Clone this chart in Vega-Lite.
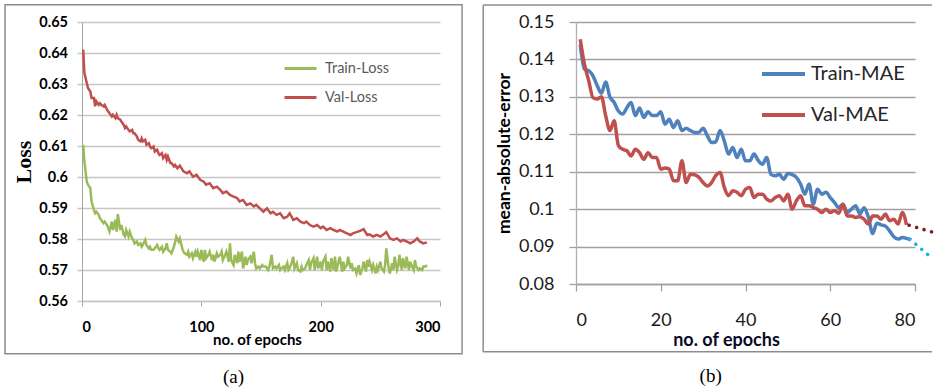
{
  "$schema": "https://vega.github.io/schema/vega-lite/v6.json",
  "background": "white",
  "padding": {"left": 4, "top": 3, "right": 0, "bottom": 0},
  "bounds": "flush",
  "spacing": 136,
  "config": {"view": {"stroke": null}},
  "resolve": {"scale": {"color": "independent"}, "legend": {"color": "independent"}},
  "datasets": {
    "loss": [
      {"epoch":1,"series":"Train-Loss","loss":0.6104},{"epoch":2,"series":"Train-Loss","loss":0.605},{"epoch":4,"series":"Train-Loss","loss":0.5985},{"epoch":5,"series":"Train-Loss","loss":0.5975},{"epoch":7,"series":"Train-Loss","loss":0.5964},{"epoch":8,"series":"Train-Loss","loss":0.5921},{"epoch":10,"series":"Train-Loss","loss":0.5894},{"epoch":11,"series":"Train-Loss","loss":0.5883},{"epoch":12,"series":"Train-Loss","loss":0.5888},{"epoch":14,"series":"Train-Loss","loss":0.5878},{"epoch":15,"series":"Train-Loss","loss":0.5867},{"epoch":16,"series":"Train-Loss","loss":0.5862},{"epoch":18,"series":"Train-Loss","loss":0.5851},{"epoch":19,"series":"Train-Loss","loss":0.5856},{"epoch":21,"series":"Train-Loss","loss":0.5845},{"epoch":22,"series":"Train-Loss","loss":0.5835},{"epoch":23,"series":"Train-Loss","loss":0.5824},{"epoch":25,"series":"Train-Loss","loss":0.5856},{"epoch":26,"series":"Train-Loss","loss":0.5829},{"epoch":28,"series":"Train-Loss","loss":0.5862},{"epoch":29,"series":"Train-Loss","loss":0.5824},{"epoch":30,"series":"Train-Loss","loss":0.588},{"epoch":32,"series":"Train-Loss","loss":0.5829},{"epoch":33,"series":"Train-Loss","loss":0.5845},{"epoch":35,"series":"Train-Loss","loss":0.5813},{"epoch":36,"series":"Train-Loss","loss":0.5808},{"epoch":37,"series":"Train-Loss","loss":0.5829},{"epoch":39,"series":"Train-Loss","loss":0.5808},{"epoch":40,"series":"Train-Loss","loss":0.5824},{"epoch":42,"series":"Train-Loss","loss":0.5802},{"epoch":43,"series":"Train-Loss","loss":0.5797},{"epoch":44,"series":"Train-Loss","loss":0.5786},{"epoch":46,"series":"Train-Loss","loss":0.5792},{"epoch":47,"series":"Train-Loss","loss":0.5781},{"epoch":49,"series":"Train-Loss","loss":0.5786},{"epoch":50,"series":"Train-Loss","loss":0.5775},{"epoch":51,"series":"Train-Loss","loss":0.5781},{"epoch":53,"series":"Train-Loss","loss":0.5797},{"epoch":54,"series":"Train-Loss","loss":0.5781},{"epoch":56,"series":"Train-Loss","loss":0.577},{"epoch":57,"series":"Train-Loss","loss":0.5775},{"epoch":58,"series":"Train-Loss","loss":0.5765},{"epoch":60,"series":"Train-Loss","loss":0.5765},{"epoch":61,"series":"Train-Loss","loss":0.577},{"epoch":63,"series":"Train-Loss","loss":0.5781},{"epoch":64,"series":"Train-Loss","loss":0.577},{"epoch":65,"series":"Train-Loss","loss":0.5765},{"epoch":67,"series":"Train-Loss","loss":0.5775},{"epoch":68,"series":"Train-Loss","loss":0.5759},{"epoch":70,"series":"Train-Loss","loss":0.577},{"epoch":71,"series":"Train-Loss","loss":0.5786},{"epoch":72,"series":"Train-Loss","loss":0.5765},{"epoch":74,"series":"Train-Loss","loss":0.5759},{"epoch":75,"series":"Train-Loss","loss":0.5754},{"epoch":77,"series":"Train-Loss","loss":0.5775},{"epoch":78,"series":"Train-Loss","loss":0.5789},
      {"epoch":79,"series":"Train-Loss","loss":0.5808},{"epoch":81,"series":"Train-Loss","loss":0.5792},{"epoch":82,"series":"Train-Loss","loss":0.5802},{"epoch":84,"series":"Train-Loss","loss":0.577},{"epoch":85,"series":"Train-Loss","loss":0.5759},{"epoch":86,"series":"Train-Loss","loss":0.5754},{"epoch":88,"series":"Train-Loss","loss":0.5749},{"epoch":89,"series":"Train-Loss","loss":0.5759},{"epoch":90,"series":"Train-Loss","loss":0.5743},{"epoch":92,"series":"Train-Loss","loss":0.5754},{"epoch":93,"series":"Train-Loss","loss":0.5738},{"epoch":95,"series":"Train-Loss","loss":0.5759},{"epoch":96,"series":"Train-Loss","loss":0.5743},{"epoch":97,"series":"Train-Loss","loss":0.5759},{"epoch":99,"series":"Train-Loss","loss":0.5732},{"epoch":100,"series":"Train-Loss","loss":0.5765},{"epoch":102,"series":"Train-Loss","loss":0.5727},{"epoch":103,"series":"Train-Loss","loss":0.5765},{"epoch":104,"series":"Train-Loss","loss":0.5738},{"epoch":106,"series":"Train-Loss","loss":0.5749},{"epoch":107,"series":"Train-Loss","loss":0.5759},{"epoch":109,"series":"Train-Loss","loss":0.5732},{"epoch":110,"series":"Train-Loss","loss":0.5749},{"epoch":111,"series":"Train-Loss","loss":0.5727},{"epoch":113,"series":"Train-Loss","loss":0.5754},{"epoch":114,"series":"Train-Loss","loss":0.5743},{"epoch":116,"series":"Train-Loss","loss":0.5749},{"epoch":117,"series":"Train-Loss","loss":0.5759},{"epoch":118,"series":"Train-Loss","loss":0.5732},{"epoch":120,"series":"Train-Loss","loss":0.5749},{"epoch":121,"series":"Train-Loss","loss":0.5759},{"epoch":123,"series":"Train-Loss","loss":0.5727},{"epoch":124,"series":"Train-Loss","loss":0.5786},{"epoch":125,"series":"Train-Loss","loss":0.5732},{"epoch":127,"series":"Train-Loss","loss":0.5716},{"epoch":128,"series":"Train-Loss","loss":0.5749},{"epoch":130,"series":"Train-Loss","loss":0.5722},{"epoch":131,"series":"Train-Loss","loss":0.5759},{"epoch":132,"series":"Train-Loss","loss":0.5727},{"epoch":134,"series":"Train-Loss","loss":0.5759},{"epoch":135,"series":"Train-Loss","loss":0.5705},{"epoch":137,"series":"Train-Loss","loss":0.5743},{"epoch":138,"series":"Train-Loss","loss":0.5716},{"epoch":139,"series":"Train-Loss","loss":0.5732},{"epoch":141,"series":"Train-Loss","loss":0.5743},{"epoch":142,"series":"Train-Loss","loss":0.5722},{"epoch":144,"series":"Train-Loss","loss":0.5759},{"epoch":145,"series":"Train-Loss","loss":0.5722},{"epoch":146,"series":"Train-Loss","loss":0.5705},{"epoch":148,"series":"Train-Loss","loss":0.5711},{"epoch":149,"series":"Train-Loss","loss":0.5705},{"epoch":151,"series":"Train-Loss","loss":0.5716},{"epoch":152,"series":"Train-Loss","loss":0.5711},
      {"epoch":154,"series":"Train-Loss","loss":0.5711},{"epoch":156,"series":"Train-Loss","loss":0.57},{"epoch":157,"series":"Train-Loss","loss":0.5711},{"epoch":159,"series":"Train-Loss","loss":0.5749},{"epoch":160,"series":"Train-Loss","loss":0.5705},{"epoch":162,"series":"Train-Loss","loss":0.5711},{"epoch":163,"series":"Train-Loss","loss":0.5705},{"epoch":165,"series":"Train-Loss","loss":0.5716},{"epoch":166,"series":"Train-Loss","loss":0.57},{"epoch":167,"series":"Train-Loss","loss":0.5705},{"epoch":169,"series":"Train-Loss","loss":0.5711},{"epoch":170,"series":"Train-Loss","loss":0.57},{"epoch":172,"series":"Train-Loss","loss":0.5722},{"epoch":173,"series":"Train-Loss","loss":0.57},{"epoch":174,"series":"Train-Loss","loss":0.5705},{"epoch":176,"series":"Train-Loss","loss":0.5727},{"epoch":177,"series":"Train-Loss","loss":0.5743},{"epoch":178,"series":"Train-Loss","loss":0.5705},{"epoch":180,"series":"Train-Loss","loss":0.5722},{"epoch":181,"series":"Train-Loss","loss":0.57},{"epoch":183,"series":"Train-Loss","loss":0.5695},{"epoch":184,"series":"Train-Loss","loss":0.5711},{"epoch":185,"series":"Train-Loss","loss":0.57},{"epoch":187,"series":"Train-Loss","loss":0.5705},{"epoch":188,"series":"Train-Loss","loss":0.5716},{"epoch":190,"series":"Train-Loss","loss":0.5732},{"epoch":191,"series":"Train-Loss","loss":0.57},{"epoch":192,"series":"Train-Loss","loss":0.5722},{"epoch":194,"series":"Train-Loss","loss":0.5738},{"epoch":195,"series":"Train-Loss","loss":0.57},{"epoch":197,"series":"Train-Loss","loss":0.5743},{"epoch":198,"series":"Train-Loss","loss":0.5705},{"epoch":200,"series":"Train-Loss","loss":0.5727},{"epoch":201,"series":"Train-Loss","loss":0.57},{"epoch":202,"series":"Train-Loss","loss":0.5727},{"epoch":204,"series":"Train-Loss","loss":0.5743},{"epoch":205,"series":"Train-Loss","loss":0.57},{"epoch":206,"series":"Train-Loss","loss":0.5727},{"epoch":208,"series":"Train-Loss","loss":0.5695},{"epoch":209,"series":"Train-Loss","loss":0.5738},{"epoch":211,"series":"Train-Loss","loss":0.57},{"epoch":212,"series":"Train-Loss","loss":0.5743},{"epoch":213,"series":"Train-Loss","loss":0.5695},{"epoch":215,"series":"Train-Loss","loss":0.5727},{"epoch":216,"series":"Train-Loss","loss":0.5743},{"epoch":218,"series":"Train-Loss","loss":0.5695},{"epoch":219,"series":"Train-Loss","loss":0.5727},{"epoch":220,"series":"Train-Loss","loss":0.5705},{"epoch":222,"series":"Train-Loss","loss":0.5716},{"epoch":223,"series":"Train-Loss","loss":0.5743},{"epoch":225,"series":"Train-Loss","loss":0.5705},{"epoch":226,"series":"Train-Loss","loss":0.5722},{"epoch":227,"series":"Train-Loss","loss":0.57},
      {"epoch":229,"series":"Train-Loss","loss":0.5705},{"epoch":230,"series":"Train-Loss","loss":0.5689},{"epoch":232,"series":"Train-Loss","loss":0.5716},{"epoch":233,"series":"Train-Loss","loss":0.5684},{"epoch":235,"series":"Train-Loss","loss":0.5705},{"epoch":236,"series":"Train-Loss","loss":0.5727},{"epoch":238,"series":"Train-Loss","loss":0.5695},{"epoch":239,"series":"Train-Loss","loss":0.5732},{"epoch":240,"series":"Train-Loss","loss":0.5711},{"epoch":241,"series":"Train-Loss","loss":0.5727},{"epoch":243,"series":"Train-Loss","loss":0.57},{"epoch":244,"series":"Train-Loss","loss":0.5716},{"epoch":246,"series":"Train-Loss","loss":0.5689},{"epoch":247,"series":"Train-Loss","loss":0.5711},{"epoch":248,"series":"Train-Loss","loss":0.57},{"epoch":250,"series":"Train-Loss","loss":0.5727},{"epoch":251,"series":"Train-Loss","loss":0.5705},{"epoch":253,"series":"Train-Loss","loss":0.5695},{"epoch":254,"series":"Train-Loss","loss":0.5716},{"epoch":255,"series":"Train-Loss","loss":0.577},{"epoch":257,"series":"Train-Loss","loss":0.5705},{"epoch":258,"series":"Train-Loss","loss":0.5689},{"epoch":260,"series":"Train-Loss","loss":0.5722},{"epoch":261,"series":"Train-Loss","loss":0.57},{"epoch":262,"series":"Train-Loss","loss":0.5743},{"epoch":264,"series":"Train-Loss","loss":0.57},{"epoch":265,"series":"Train-Loss","loss":0.5711},{"epoch":266,"series":"Train-Loss","loss":0.5749},{"epoch":268,"series":"Train-Loss","loss":0.57},{"epoch":269,"series":"Train-Loss","loss":0.5738},{"epoch":271,"series":"Train-Loss","loss":0.5705},{"epoch":272,"series":"Train-Loss","loss":0.5743},{"epoch":274,"series":"Train-Loss","loss":0.57},{"epoch":275,"series":"Train-Loss","loss":0.5727},{"epoch":276,"series":"Train-Loss","loss":0.5716},{"epoch":278,"series":"Train-Loss","loss":0.57},{"epoch":279,"series":"Train-Loss","loss":0.5732},{"epoch":280,"series":"Train-Loss","loss":0.5711},{"epoch":282,"series":"Train-Loss","loss":0.57},{"epoch":283,"series":"Train-Loss","loss":0.5705},{"epoch":285,"series":"Train-Loss","loss":0.57},{"epoch":286,"series":"Train-Loss","loss":0.5711},{"epoch":288,"series":"Train-Loss","loss":0.5711},{"epoch":289,"series":"Train-Loss","loss":0.5716},
      {"epoch":1,"series":"Val-Loss","loss":0.6411},{"epoch":2,"series":"Val-Loss","loss":0.6335},{"epoch":4,"series":"Val-Loss","loss":0.6303},{"epoch":5,"series":"Val-Loss","loss":0.6287},{"epoch":7,"series":"Val-Loss","loss":0.6276},{"epoch":8,"series":"Val-Loss","loss":0.6255},{"epoch":10,"series":"Val-Loss","loss":0.6255},{"epoch":11,"series":"Val-Loss","loss":0.6228},{"epoch":12,"series":"Val-Loss","loss":0.6244},{"epoch":14,"series":"Val-Loss","loss":0.6233},{"epoch":15,"series":"Val-Loss","loss":0.6238},{"epoch":16,"series":"Val-Loss","loss":0.6233},{"epoch":18,"series":"Val-Loss","loss":0.6228},{"epoch":19,"series":"Val-Loss","loss":0.6233},{"epoch":21,"series":"Val-Loss","loss":0.6217},{"epoch":22,"series":"Val-Loss","loss":0.6211},{"epoch":23,"series":"Val-Loss","loss":0.6206},{"epoch":25,"series":"Val-Loss","loss":0.6195},{"epoch":26,"series":"Val-Loss","loss":0.6201},{"epoch":28,"series":"Val-Loss","loss":0.619},{"epoch":29,"series":"Val-Loss","loss":0.6201},{"epoch":30,"series":"Val-Loss","loss":0.619},{"epoch":32,"series":"Val-Loss","loss":0.6185},{"epoch":33,"series":"Val-Loss","loss":0.6179},{"epoch":35,"series":"Val-Loss","loss":0.6168},{"epoch":36,"series":"Val-Loss","loss":0.6158},{"epoch":37,"series":"Val-Loss","loss":0.6163},{"epoch":39,"series":"Val-Loss","loss":0.6152},{"epoch":40,"series":"Val-Loss","loss":0.6147},{"epoch":42,"series":"Val-Loss","loss":0.6152},{"epoch":43,"series":"Val-Loss","loss":0.6141},{"epoch":44,"series":"Val-Loss","loss":0.6141},{"epoch":46,"series":"Val-Loss","loss":0.6131},{"epoch":47,"series":"Val-Loss","loss":0.612},{"epoch":49,"series":"Val-Loss","loss":0.6115},{"epoch":50,"series":"Val-Loss","loss":0.6125},{"epoch":51,"series":"Val-Loss","loss":0.6115},{"epoch":53,"series":"Val-Loss","loss":0.612},{"epoch":54,"series":"Val-Loss","loss":0.6104},{"epoch":56,"series":"Val-Loss","loss":0.6109},{"epoch":57,"series":"Val-Loss","loss":0.6098},{"epoch":58,"series":"Val-Loss","loss":0.6093},{"epoch":60,"series":"Val-Loss","loss":0.6098},{"epoch":61,"series":"Val-Loss","loss":0.6082},{"epoch":63,"series":"Val-Loss","loss":0.6088},{"epoch":64,"series":"Val-Loss","loss":0.6077},{"epoch":65,"series":"Val-Loss","loss":0.6071},{"epoch":67,"series":"Val-Loss","loss":0.6077},{"epoch":68,"series":"Val-Loss","loss":0.6061},{"epoch":70,"series":"Val-Loss","loss":0.6071},{"epoch":71,"series":"Val-Loss","loss":0.6055},{"epoch":72,"series":"Val-Loss","loss":0.6066},{"epoch":74,"series":"Val-Loss","loss":0.6045},{"epoch":75,"series":"Val-Loss","loss":0.6045},{"epoch":77,"series":"Val-Loss","loss":0.6034},{"epoch":78,"series":"Val-Loss","loss":0.6039},{"epoch":80,"series":"Val-Loss","loss":0.6028},{"epoch":82,"series":"Val-Loss","loss":0.6037},{"epoch":85,"series":"Val-Loss","loss":0.6018},{"epoch":88,"series":"Val-Loss","loss":0.6012},{"epoch":90,"series":"Val-Loss","loss":0.6018},{"epoch":93,"series":"Val-Loss","loss":0.6001},{"epoch":96,"series":"Val-Loss","loss":0.6007},{"epoch":99,"series":"Val-Loss","loss":0.5991},{"epoch":102,"series":"Val-Loss","loss":0.5985},{"epoch":104,"series":"Val-Loss","loss":0.5975},{"epoch":107,"series":"Val-Loss","loss":0.598},{"epoch":110,"series":"Val-Loss","loss":0.5964},{"epoch":113,"series":"Val-Loss","loss":0.5969},{"epoch":116,"series":"Val-Loss","loss":0.5958},{"epoch":118,"series":"Val-Loss","loss":0.5948},{"epoch":121,"series":"Val-Loss","loss":0.5953},{"epoch":124,"series":"Val-Loss","loss":0.5942},{"epoch":127,"series":"Val-Loss","loss":0.5937},{"epoch":130,"series":"Val-Loss","loss":0.5932},{"epoch":132,"series":"Val-Loss","loss":0.5921},{"epoch":135,"series":"Val-Loss","loss":0.5926},{"epoch":138,"series":"Val-Loss","loss":0.591},{"epoch":141,"series":"Val-Loss","loss":0.5915},{"epoch":144,"series":"Val-Loss","loss":0.5905},{"epoch":146,"series":"Val-Loss","loss":0.591},{"epoch":149,"series":"Val-Loss","loss":0.5899},{"epoch":152,"series":"Val-Loss","loss":0.5888},{"epoch":155,"series":"Val-Loss","loss":0.5899},{"epoch":158,"series":"Val-Loss","loss":0.5883},{"epoch":160,"series":"Val-Loss","loss":0.5888},{"epoch":163,"series":"Val-Loss","loss":0.5878},{"epoch":166,"series":"Val-Loss","loss":0.5883},{"epoch":169,"series":"Val-Loss","loss":0.5867},{"epoch":172,"series":"Val-Loss","loss":0.5872},{"epoch":174,"series":"Val-Loss","loss":0.5883},{"epoch":177,"series":"Val-Loss","loss":0.5862},{"epoch":180,"series":"Val-Loss","loss":0.5867},{"epoch":183,"series":"Val-Loss","loss":0.5856},{"epoch":186,"series":"Val-Loss","loss":0.5851},{"epoch":188,"series":"Val-Loss","loss":0.5856},{"epoch":191,"series":"Val-Loss","loss":0.5845},{"epoch":194,"series":"Val-Loss","loss":0.584},{"epoch":197,"series":"Val-Loss","loss":0.5845},{"epoch":200,"series":"Val-Loss","loss":0.5835},{"epoch":202,"series":"Val-Loss","loss":0.584},{"epoch":205,"series":"Val-Loss","loss":0.5829},{"epoch":208,"series":"Val-Loss","loss":0.5835},{"epoch":211,"series":"Val-Loss","loss":0.5829},{"epoch":214,"series":"Val-Loss","loss":0.5824},{"epoch":216,"series":"Val-Loss","loss":0.5829},{"epoch":219,"series":"Val-Loss","loss":0.5824},{"epoch":222,"series":"Val-Loss","loss":0.5818},{"epoch":225,"series":"Val-Loss","loss":0.5813},{"epoch":227,"series":"Val-Loss","loss":0.5818},{"epoch":230,"series":"Val-Loss","loss":0.5822},{"epoch":233,"series":"Val-Loss","loss":0.5826},{"epoch":236,"series":"Val-Loss","loss":0.5832},{"epoch":239,"series":"Val-Loss","loss":0.5813},{"epoch":241,"series":"Val-Loss","loss":0.5815},{"epoch":244,"series":"Val-Loss","loss":0.5808},{"epoch":247,"series":"Val-Loss","loss":0.5813},{"epoch":250,"series":"Val-Loss","loss":0.5808},{"epoch":253,"series":"Val-Loss","loss":0.5816},{"epoch":255,"series":"Val-Loss","loss":0.5822},{"epoch":258,"series":"Val-Loss","loss":0.5802},{"epoch":261,"series":"Val-Loss","loss":0.5797},{"epoch":264,"series":"Val-Loss","loss":0.5802},{"epoch":267,"series":"Val-Loss","loss":0.5792},{"epoch":269,"series":"Val-Loss","loss":0.5797},{"epoch":272,"series":"Val-Loss","loss":0.5792},{"epoch":275,"series":"Val-Loss","loss":0.5786},{"epoch":278,"series":"Val-Loss","loss":0.5792},{"epoch":281,"series":"Val-Loss","loss":0.5802},{"epoch":283,"series":"Val-Loss","loss":0.5792},{"epoch":286,"series":"Val-Loss","loss":0.5786},{"epoch":289,"series":"Val-Loss","loss":0.5789}
    ],
    "mae": [
      {"epoch":1,"series":"Train-MAE","mae":0.144},{"epoch":2,"series":"Train-MAE","mae":0.1374},{"epoch":3,"series":"Train-MAE","mae":0.137},{"epoch":4,"series":"Train-MAE","mae":0.1356},{"epoch":5,"series":"Train-MAE","mae":0.133},{"epoch":6,"series":"Train-MAE","mae":0.131},{"epoch":7,"series":"Train-MAE","mae":0.134},{"epoch":8,"series":"Train-MAE","mae":0.13},{"epoch":9,"series":"Train-MAE","mae":0.1285},{"epoch":10,"series":"Train-MAE","mae":0.1262},{"epoch":11,"series":"Train-MAE","mae":0.1254},{"epoch":12,"series":"Train-MAE","mae":0.1271},{"epoch":13,"series":"Train-MAE","mae":0.1285},{"epoch":14,"series":"Train-MAE","mae":0.125},{"epoch":15,"series":"Train-MAE","mae":0.127},{"epoch":16,"series":"Train-MAE","mae":0.1245},{"epoch":17,"series":"Train-MAE","mae":0.126},{"epoch":18,"series":"Train-MAE","mae":0.125},{"epoch":19,"series":"Train-MAE","mae":0.125},{"epoch":20,"series":"Train-MAE","mae":0.126},{"epoch":21,"series":"Train-MAE","mae":0.1227},{"epoch":22,"series":"Train-MAE","mae":0.124},{"epoch":23,"series":"Train-MAE","mae":0.1218},{"epoch":24,"series":"Train-MAE","mae":0.1236},{"epoch":25,"series":"Train-MAE","mae":0.121},{"epoch":26,"series":"Train-MAE","mae":0.1216},{"epoch":27,"series":"Train-MAE","mae":0.121},{"epoch":28,"series":"Train-MAE","mae":0.1205},{"epoch":29,"series":"Train-MAE","mae":0.1205},{"epoch":30,"series":"Train-MAE","mae":0.1216},{"epoch":31,"series":"Train-MAE","mae":0.1196},{"epoch":32,"series":"Train-MAE","mae":0.1178},{"epoch":33,"series":"Train-MAE","mae":0.118},{"epoch":34,"series":"Train-MAE","mae":0.121},{"epoch":35,"series":"Train-MAE","mae":0.1182},{"epoch":36,"series":"Train-MAE","mae":0.1147},{"epoch":37,"series":"Train-MAE","mae":0.1165},{"epoch":38,"series":"Train-MAE","mae":0.1138},{"epoch":39,"series":"Train-MAE","mae":0.116},{"epoch":40,"series":"Train-MAE","mae":0.1129},{"epoch":41,"series":"Train-MAE","mae":0.1129},{"epoch":42,"series":"Train-MAE","mae":0.1147},{"epoch":43,"series":"Train-MAE","mae":0.113},{"epoch":44,"series":"Train-MAE","mae":0.112},{"epoch":45,"series":"Train-MAE","mae":0.1138},{"epoch":46,"series":"Train-MAE","mae":0.1093},{"epoch":47,"series":"Train-MAE","mae":0.1089},{"epoch":48,"series":"Train-MAE","mae":0.1093},{"epoch":49,"series":"Train-MAE","mae":0.108},{"epoch":50,"series":"Train-MAE","mae":0.1095},{"epoch":51,"series":"Train-MAE","mae":0.1092},{"epoch":52,"series":"Train-MAE","mae":0.1085},{"epoch":53,"series":"Train-MAE","mae":0.1067},{"epoch":54,"series":"Train-MAE","mae":0.104},{"epoch":55,"series":"Train-MAE","mae":0.1067},{"epoch":56,"series":"Train-MAE","mae":0.1013},{"epoch":57,"series":"Train-MAE","mae":0.1053},{"epoch":58,"series":"Train-MAE","mae":0.104},{"epoch":59,"series":"Train-MAE","mae":0.1045},{"epoch":60,"series":"Train-MAE","mae":0.1031},{"epoch":61,"series":"Train-MAE","mae":0.1018},{"epoch":62,"series":"Train-MAE","mae":0.1004},{"epoch":63,"series":"Train-MAE","mae":0.1013},{"epoch":64,"series":"Train-MAE","mae":0.0991},{"epoch":65,"series":"Train-MAE","mae":0.1},{"epoch":66,"series":"Train-MAE","mae":0.1009},{"epoch":67,"series":"Train-MAE","mae":0.0987},{"epoch":68,"series":"Train-MAE","mae":0.1004},{"epoch":69,"series":"Train-MAE","mae":0.0978},{"epoch":70,"series":"Train-MAE","mae":0.0935},{"epoch":71,"series":"Train-MAE","mae":0.0962},{"epoch":72,"series":"Train-MAE","mae":0.0958},{"epoch":73,"series":"Train-MAE","mae":0.0955},{"epoch":74,"series":"Train-MAE","mae":0.0942},{"epoch":75,"series":"Train-MAE","mae":0.0926},{"epoch":76,"series":"Train-MAE","mae":0.092},{"epoch":77,"series":"Train-MAE","mae":0.0924},{"epoch":78,"series":"Train-MAE","mae":0.0922},{"epoch":79,"series":"Train-MAE","mae":0.0918},
      {"epoch":1,"series":"Val-MAE","mae":0.1454},{"epoch":2,"series":"Val-MAE","mae":0.1387},{"epoch":3,"series":"Val-MAE","mae":0.1343},{"epoch":4,"series":"Val-MAE","mae":0.1298},{"epoch":5,"series":"Val-MAE","mae":0.1294},{"epoch":6,"series":"Val-MAE","mae":0.13},{"epoch":7,"series":"Val-MAE","mae":0.125},{"epoch":8,"series":"Val-MAE","mae":0.121},{"epoch":9,"series":"Val-MAE","mae":0.1236},{"epoch":10,"series":"Val-MAE","mae":0.117},{"epoch":11,"series":"Val-MAE","mae":0.116},{"epoch":12,"series":"Val-MAE","mae":0.1156},{"epoch":13,"series":"Val-MAE","mae":0.1142},{"epoch":14,"series":"Val-MAE","mae":0.116},{"epoch":15,"series":"Val-MAE","mae":0.1151},{"epoch":16,"series":"Val-MAE","mae":0.1133},{"epoch":17,"series":"Val-MAE","mae":0.1151},{"epoch":18,"series":"Val-MAE","mae":0.1138},{"epoch":19,"series":"Val-MAE","mae":0.1138},{"epoch":20,"series":"Val-MAE","mae":0.1107},{"epoch":21,"series":"Val-MAE","mae":0.111},{"epoch":22,"series":"Val-MAE","mae":0.1107},{"epoch":23,"series":"Val-MAE","mae":0.1076},{"epoch":24,"series":"Val-MAE","mae":0.1076},{"epoch":25,"series":"Val-MAE","mae":0.1129},{"epoch":26,"series":"Val-MAE","mae":0.1071},{"epoch":27,"series":"Val-MAE","mae":0.1093},{"epoch":28,"series":"Val-MAE","mae":0.1092},{"epoch":29,"series":"Val-MAE","mae":0.1085},{"epoch":30,"series":"Val-MAE","mae":0.1071},{"epoch":31,"series":"Val-MAE","mae":0.1062},{"epoch":32,"series":"Val-MAE","mae":0.1071},{"epoch":33,"series":"Val-MAE","mae":0.109},{"epoch":34,"series":"Val-MAE","mae":0.1098},{"epoch":35,"series":"Val-MAE","mae":0.1058},{"epoch":36,"series":"Val-MAE","mae":0.1036},{"epoch":37,"series":"Val-MAE","mae":0.1049},{"epoch":38,"series":"Val-MAE","mae":0.1045},{"epoch":39,"series":"Val-MAE","mae":0.1036},{"epoch":40,"series":"Val-MAE","mae":0.1053},{"epoch":41,"series":"Val-MAE","mae":0.1058},{"epoch":42,"series":"Val-MAE","mae":0.1031},{"epoch":43,"series":"Val-MAE","mae":0.104},{"epoch":44,"series":"Val-MAE","mae":0.104},{"epoch":45,"series":"Val-MAE","mae":0.1027},{"epoch":46,"series":"Val-MAE","mae":0.1022},{"epoch":47,"series":"Val-MAE","mae":0.1031},{"epoch":48,"series":"Val-MAE","mae":0.1036},{"epoch":49,"series":"Val-MAE","mae":0.1022},{"epoch":50,"series":"Val-MAE","mae":0.104},{"epoch":51,"series":"Val-MAE","mae":0.1},{"epoch":52,"series":"Val-MAE","mae":0.1022},{"epoch":53,"series":"Val-MAE","mae":0.1036},{"epoch":54,"series":"Val-MAE","mae":0.1009},{"epoch":55,"series":"Val-MAE","mae":0.1009},{"epoch":56,"series":"Val-MAE","mae":0.1004},{"epoch":57,"series":"Val-MAE","mae":0.1},{"epoch":58,"series":"Val-MAE","mae":0.0991},{"epoch":59,"series":"Val-MAE","mae":0.1},{"epoch":60,"series":"Val-MAE","mae":0.0991},{"epoch":61,"series":"Val-MAE","mae":0.0996},{"epoch":62,"series":"Val-MAE","mae":0.0989},{"epoch":63,"series":"Val-MAE","mae":0.1013},{"epoch":64,"series":"Val-MAE","mae":0.0982},{"epoch":65,"series":"Val-MAE","mae":0.0982},{"epoch":66,"series":"Val-MAE","mae":0.0978},{"epoch":67,"series":"Val-MAE","mae":0.098},{"epoch":68,"series":"Val-MAE","mae":0.0973},{"epoch":69,"series":"Val-MAE","mae":0.096},{"epoch":70,"series":"Val-MAE","mae":0.0982},{"epoch":71,"series":"Val-MAE","mae":0.0982},{"epoch":72,"series":"Val-MAE","mae":0.0973},{"epoch":73,"series":"Val-MAE","mae":0.0987},{"epoch":74,"series":"Val-MAE","mae":0.0969},{"epoch":75,"series":"Val-MAE","mae":0.0973},{"epoch":76,"series":"Val-MAE","mae":0.096},{"epoch":77,"series":"Val-MAE","mae":0.0991},{"epoch":78,"series":"Val-MAE","mae":0.0958}
    ],
    "trend": [
      {"epoch":78.6,"series":"Val-MAE","mae":0.0957},{"epoch":84,"series":"Val-MAE","mae":0.0939},
      {"epoch":78.8,"series":"Train-MAE","mae":0.092},{"epoch":84,"series":"Train-MAE","mae":0.0869}
    ]
  },
  "hconcat": [
    {
      "width": 358,
      "height": 279,
      "title": {"text": "(a)", "orient": "bottom", "anchor": "middle", "frame": "bounds", "font": "Liberation Serif", "fontSize": 19, "fontWeight": "normal", "color": "#000000", "offset": 14},
      "layer": [
        {
          "data": {"values": [{}]},
          "mark": {"type": "rect", "clip": false, "fill": "transparent", "stroke": "#8c8c8c", "strokeWidth": 1.5},
          "encoding": {
            "x": {"datum": -64.5, "type": "quantitative",
              "scale": {"domain": [0, 300], "nice": false, "zero": false},
              "axis": {"values": [0, 100, 200, 300], "grid": false, "title": "no. of epochs", "labelOverlap": false,
                "domainColor": "#c6c6c6", "domainWidth": 1.5, "tickColor": "#a6a6a6", "tickSize": 5, "tickWidth": 1,
                "labelFont": "Lato", "labelFontWeight": "bold", "labelFontSize": 14.5, "labelColor": "#000000", "labelPadding": 14.5,
                "titleFont": "Lato", "titleFontWeight": "bold", "titleFontSize": 15, "titleColor": "#000000", "titleX": 175, "titleY": 31}},
            "x2": {"datum": 318.5},
            "y": {"datum": 0.6556, "type": "quantitative",
              "scale": {"domain": [0.56, 0.65], "nice": false, "zero": false},
              "axis": {"values": [0.56, 0.57, 0.58, 0.59, 0.6, 0.61, 0.62, 0.63, 0.64, 0.65], "format": ".2~f", "labelOverlap": false,
                "grid": true, "gridColor": "#c6c6c6", "gridWidth": 1.5,
                "domainColor": "#a6a6a6", "domainWidth": 1, "tickColor": "#c6c6c6", "tickSize": 5, "tickWidth": 1.5,
                "labelFont": "Lato", "labelFontWeight": "bold", "labelFontSize": 14.5, "labelColor": "#000000", "labelPadding": 9.5,
                "title": "Loss", "titleFont": "Liberation Serif", "titleFontWeight": "bold", "titleFontSize": 22, "titleColor": "#000000", "titleX": -47}},
            "y2": {"datum": 0.543}
          }
        },
        {
          "data": {"name": "loss"},
          "mark": {"type": "line", "strokeWidth": 2.5, "clip": false},
          "encoding": {
            "x": {"field": "epoch", "type": "quantitative",
              "scale": {"domain": [0, 300], "nice": false, "zero": false},
              "axis": {"values": [0, 100, 200, 300], "grid": false, "title": "no. of epochs", "labelOverlap": false,
                "domainColor": "#c6c6c6", "domainWidth": 1.5, "tickColor": "#a6a6a6", "tickSize": 5, "tickWidth": 1,
                "labelFont": "Lato", "labelFontWeight": "bold", "labelFontSize": 14.5, "labelColor": "#000000", "labelPadding": 14.5,
                "titleFont": "Lato", "titleFontWeight": "bold", "titleFontSize": 15, "titleColor": "#000000", "titleX": 175, "titleY": 31}},
            "y": {"field": "loss", "type": "quantitative",
              "scale": {"domain": [0.56, 0.65], "nice": false, "zero": false},
              "axis": {"values": [0.56, 0.57, 0.58, 0.59, 0.6, 0.61, 0.62, 0.63, 0.64, 0.65], "format": ".2~f", "labelOverlap": false,
                "grid": true, "gridColor": "#c6c6c6", "gridWidth": 1.5,
                "domainColor": "#a6a6a6", "domainWidth": 1, "tickColor": "#c6c6c6", "tickSize": 5, "tickWidth": 1.5,
                "labelFont": "Lato", "labelFontWeight": "bold", "labelFontSize": 14.5, "labelColor": "#000000", "labelPadding": 9.5,
                "title": "Loss", "titleFont": "Liberation Serif", "titleFontWeight": "bold", "titleFontSize": 22, "titleColor": "#000000", "titleX": -47}},
            "color": {"field": "series", "type": "nominal",
              "scale": {"domain": ["Train-Loss", "Val-Loss"], "range": ["#9BBB59", "#C0504D"]},
              "legend": {"orient": "none", "legendX": 201, "legendY": 29, "title": null, "symbolType": "stroke", "symbolSize": 1024, "symbolStrokeWidth": 3,
                "labelFont": "Lato", "labelFontSize": 14.5, "labelColor": "#595959", "labelOffset": 7, "rowPadding": 5}}
          }
        }
      ]
    },
    {
      "width": 339,
      "height": 262,
      "title": {"text": "(b)", "orient": "bottom", "anchor": "middle", "frame": "bounds", "font": "Liberation Serif", "fontSize": 19, "fontWeight": "normal", "color": "#000000", "offset": 15},
      "layer": [
        {
          "data": {"name": "mae"},
          "mark": {"type": "line", "strokeWidth": 3.5, "interpolate": "monotone", "clip": false},
          "encoding": {
            "x": {"field": "epoch", "type": "quantitative",
              "scale": {"domain": [0, 80], "nice": false, "zero": false},
              "axis": {"values": [0, 20, 40, 60, 80], "grid": false, "title": "no. of epochs", "labelOverlap": false,
                "domainColor": "#a0a0a0", "domainWidth": 1.3, "tickColor": "#a0a0a0", "tickSize": 7, "tickWidth": 1.3,
                "labelFont": "Lato", "labelFontSize": 18, "labelColor": "#1a1a1a", "labelPadding": 20,
                "titleFont": "Lato", "titleFontWeight": "bold", "titleFontSize": 18, "titleColor": "#0a0a28", "titleX": 150, "titleY": 47}},
            "y": {"field": "mae", "type": "quantitative",
              "scale": {"domain": [0.08, 0.15], "nice": false, "zero": false},
              "axis": {"values": [0.08, 0.09, 0.1, 0.11, 0.12, 0.13, 0.14, 0.15], "format": ".2~f", "labelOverlap": false,
                "grid": true, "gridColor": "#a0a0a0", "gridWidth": 1.3,
                "domainColor": "#b0b0b0", "domainWidth": 1.3, "tickColor": "#a0a0a0", "tickSize": 7, "tickWidth": 1.3,
                "labelFont": "Lato", "labelFontSize": 18, "labelColor": "#1a1a1a", "labelPadding": 15,
                "title": "mean-absolute-error", "titleFont": "Lato", "titleFontWeight": "bold", "titleFontSize": 17.5, "titleColor": "#000000", "titleX": -63}},
            "color": {"field": "series", "type": "nominal",
              "scale": {"domain": ["Train-MAE", "Val-MAE"], "range": ["#4F81BD", "#C0504D"]},
              "legend": {"orient": "none", "legendX": 184, "legendY": 28.5, "title": null, "symbolType": "stroke", "symbolSize": 1849, "symbolStrokeWidth": 4,
                "labelFont": "Lato", "labelFontSize": 20, "labelColor": "#262626", "labelOffset": 4, "rowPadding": 7}}
          }
        },
        {
          "data": {"name": "trend"},
          "transform": [{"filter": "datum.series === 'Val-MAE'"}],
          "mark": {"type": "line", "clip": false, "stroke": "#7b1c1c", "strokeWidth": 3.5, "strokeDash": [0.1, 7.7], "strokeCap": "round"},
          "encoding": {
            "x": {"field": "epoch", "type": "quantitative",
              "scale": {"domain": [0, 80], "nice": false, "zero": false},
              "axis": {"values": [0, 20, 40, 60, 80], "grid": false, "title": "no. of epochs", "labelOverlap": false,
                "domainColor": "#a0a0a0", "domainWidth": 1.3, "tickColor": "#a0a0a0", "tickSize": 7, "tickWidth": 1.3,
                "labelFont": "Lato", "labelFontSize": 18, "labelColor": "#1a1a1a", "labelPadding": 20,
                "titleFont": "Lato", "titleFontWeight": "bold", "titleFontSize": 18, "titleColor": "#0a0a28", "titleX": 150, "titleY": 47}},
            "y": {"field": "mae", "type": "quantitative",
              "scale": {"domain": [0.08, 0.15], "nice": false, "zero": false},
              "axis": {"values": [0.08, 0.09, 0.1, 0.11, 0.12, 0.13, 0.14, 0.15], "format": ".2~f", "labelOverlap": false,
                "grid": true, "gridColor": "#a0a0a0", "gridWidth": 1.3,
                "domainColor": "#b0b0b0", "domainWidth": 1.3, "tickColor": "#a0a0a0", "tickSize": 7, "tickWidth": 1.3,
                "labelFont": "Lato", "labelFontSize": 18, "labelColor": "#1a1a1a", "labelPadding": 15,
                "title": "mean-absolute-error", "titleFont": "Lato", "titleFontWeight": "bold", "titleFontSize": 17.5, "titleColor": "#000000", "titleX": -63}}
          }
        },
        {
          "data": {"name": "trend"},
          "transform": [{"filter": "datum.series === 'Train-MAE'"}],
          "mark": {"type": "line", "clip": false, "stroke": "#1fb0ec", "strokeWidth": 3.5, "strokeDash": [0.1, 7.7], "strokeCap": "round"},
          "encoding": {
            "x": {"field": "epoch", "type": "quantitative",
              "scale": {"domain": [0, 80], "nice": false, "zero": false},
              "axis": {"values": [0, 20, 40, 60, 80], "grid": false, "title": "no. of epochs", "labelOverlap": false,
                "domainColor": "#a0a0a0", "domainWidth": 1.3, "tickColor": "#a0a0a0", "tickSize": 7, "tickWidth": 1.3,
                "labelFont": "Lato", "labelFontSize": 18, "labelColor": "#1a1a1a", "labelPadding": 20,
                "titleFont": "Lato", "titleFontWeight": "bold", "titleFontSize": 18, "titleColor": "#0a0a28", "titleX": 150, "titleY": 47}},
            "y": {"field": "mae", "type": "quantitative",
              "scale": {"domain": [0.08, 0.15], "nice": false, "zero": false},
              "axis": {"values": [0.08, 0.09, 0.1, 0.11, 0.12, 0.13, 0.14, 0.15], "format": ".2~f", "labelOverlap": false,
                "grid": true, "gridColor": "#a0a0a0", "gridWidth": 1.3,
                "domainColor": "#b0b0b0", "domainWidth": 1.3, "tickColor": "#a0a0a0", "tickSize": 7, "tickWidth": 1.3,
                "labelFont": "Lato", "labelFontSize": 18, "labelColor": "#1a1a1a", "labelPadding": 15,
                "title": "mean-absolute-error", "titleFont": "Lato", "titleFontWeight": "bold", "titleFontSize": 17.5, "titleColor": "#000000", "titleX": -63}}
          }
        },
        {
          "data": {"values": [{}]},
          "mark": {"type": "rule", "clip": false, "stroke": "#8c8c8c", "strokeWidth": 1.5},
          "encoding": {
            "x": {"datum": -21.9, "type": "quantitative",
              "scale": {"domain": [0, 80], "nice": false, "zero": false},
              "axis": {"values": [0, 20, 40, 60, 80], "grid": false, "title": "no. of epochs", "labelOverlap": false,
                "domainColor": "#a0a0a0", "domainWidth": 1.3, "tickColor": "#a0a0a0", "tickSize": 7, "tickWidth": 1.3,
                "labelFont": "Lato", "labelFontSize": 18, "labelColor": "#1a1a1a", "labelPadding": 20,
                "titleFont": "Lato", "titleFontWeight": "bold", "titleFontSize": 18, "titleColor": "#0a0a28", "titleX": 150, "titleY": 47}},
            "y": {"datum": 0.15454, "type": "quantitative",
              "scale": {"domain": [0.08, 0.15], "nice": false, "zero": false},
              "axis": {"values": [0.08, 0.09, 0.1, 0.11, 0.12, 0.13, 0.14, 0.15], "format": ".2~f", "labelOverlap": false,
                "grid": true, "gridColor": "#a0a0a0", "gridWidth": 1.3,
                "domainColor": "#b0b0b0", "domainWidth": 1.3, "tickColor": "#a0a0a0", "tickSize": 7, "tickWidth": 1.3,
                "labelFont": "Lato", "labelFontSize": 18, "labelColor": "#1a1a1a", "labelPadding": 15,
                "title": "mean-absolute-error", "titleFont": "Lato", "titleFontWeight": "bold", "titleFontSize": 17.5, "titleColor": "#000000", "titleX": -63}},
            "y2": {"datum": 0.06193}
          }
        },
        {
          "data": {"values": [{}]},
          "mark": {"type": "rule", "clip": false, "stroke": "#8c8c8c", "strokeWidth": 1.5},
          "encoding": {
            "x": {"datum": -21.9, "type": "quantitative",
              "scale": {"domain": [0, 80], "nice": false, "zero": false},
              "axis": {"values": [0, 20, 40, 60, 80], "grid": false, "title": "no. of epochs", "labelOverlap": false,
                "domainColor": "#a0a0a0", "domainWidth": 1.3, "tickColor": "#a0a0a0", "tickSize": 7, "tickWidth": 1.3,
                "labelFont": "Lato", "labelFontSize": 18, "labelColor": "#1a1a1a", "labelPadding": 20,
                "titleFont": "Lato", "titleFontWeight": "bold", "titleFontSize": 18, "titleColor": "#0a0a28", "titleX": 150, "titleY": 47}},
            "x2": {"datum": 84},
            "y": {"datum": 0.15454, "type": "quantitative",
              "scale": {"domain": [0.08, 0.15], "nice": false, "zero": false},
              "axis": {"values": [0.08, 0.09, 0.1, 0.11, 0.12, 0.13, 0.14, 0.15], "format": ".2~f", "labelOverlap": false,
                "grid": true, "gridColor": "#a0a0a0", "gridWidth": 1.3,
                "domainColor": "#b0b0b0", "domainWidth": 1.3, "tickColor": "#a0a0a0", "tickSize": 7, "tickWidth": 1.3,
                "labelFont": "Lato", "labelFontSize": 18, "labelColor": "#1a1a1a", "labelPadding": 15,
                "title": "mean-absolute-error", "titleFont": "Lato", "titleFontWeight": "bold", "titleFontSize": 17.5, "titleColor": "#000000", "titleX": -63}}
          }
        },
        {
          "data": {"values": [{}]},
          "mark": {"type": "rule", "clip": false, "stroke": "#8c8c8c", "strokeWidth": 1.5},
          "encoding": {
            "x": {"datum": -21.9, "type": "quantitative",
              "scale": {"domain": [0, 80], "nice": false, "zero": false},
              "axis": {"values": [0, 20, 40, 60, 80], "grid": false, "title": "no. of epochs", "labelOverlap": false,
                "domainColor": "#a0a0a0", "domainWidth": 1.3, "tickColor": "#a0a0a0", "tickSize": 7, "tickWidth": 1.3,
                "labelFont": "Lato", "labelFontSize": 18, "labelColor": "#1a1a1a", "labelPadding": 20,
                "titleFont": "Lato", "titleFontWeight": "bold", "titleFontSize": 18, "titleColor": "#0a0a28", "titleX": 150, "titleY": 47}},
            "x2": {"datum": 84},
            "y": {"datum": 0.06193, "type": "quantitative",
              "scale": {"domain": [0.08, 0.15], "nice": false, "zero": false},
              "axis": {"values": [0.08, 0.09, 0.1, 0.11, 0.12, 0.13, 0.14, 0.15], "format": ".2~f", "labelOverlap": false,
                "grid": true, "gridColor": "#a0a0a0", "gridWidth": 1.3,
                "domainColor": "#b0b0b0", "domainWidth": 1.3, "tickColor": "#a0a0a0", "tickSize": 7, "tickWidth": 1.3,
                "labelFont": "Lato", "labelFontSize": 18, "labelColor": "#1a1a1a", "labelPadding": 15,
                "title": "mean-absolute-error", "titleFont": "Lato", "titleFontWeight": "bold", "titleFontSize": 17.5, "titleColor": "#000000", "titleX": -63}}
          }
        }
      ]
    }
  ]
}
